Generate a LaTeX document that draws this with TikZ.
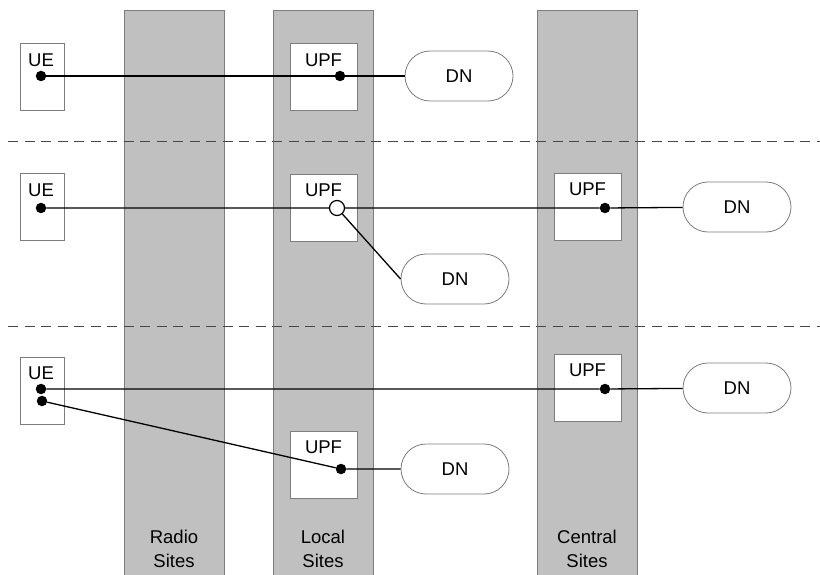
\documentclass[tikz,border=0pt]{standalone}
\usepackage{fontspec}
\setmainfont{Liberation Sans}
\usepackage{xcolor}
\usetikzlibrary{positioning,shapes.misc}
\definecolor{siteGray}{RGB}{192,192,192}
\definecolor{edgeGray}{RGB}{125,125,125}
\definecolor{dashGray}{RGB}{70,70,70}

\begin{document}
\begin{tikzpicture}[x=1pt,y=-1pt,
	every node/.style={font=\fontsize{18.5}{24}\selectfont},
	site/.style={fill=siteGray,draw=edgeGray,line width=0.8pt},
	uebox/.style={draw=edgeGray,fill=white,line width=0.8pt,minimum width=44pt,minimum height=67pt,inner sep=0pt},
	upfbox/.style={draw=edgeGray,fill=white,line width=0.8pt,minimum width=67pt,minimum height=67pt,inner sep=0pt},
	dn/.style={rounded rectangle,draw=edgeGray,fill=white,line width=0.8pt,minimum width=108pt,minimum height=50pt,inner sep=0pt},
	dot/.style={circle,fill=black,inner sep=0pt,minimum size=10.5pt},
	odot/.style={circle,draw=black,fill=white,line width=1.2pt,inner sep=0pt,minimum size=15pt},
	link/.style={line width=1.3pt},
	sep/.style={draw=dashGray,line width=1pt,dash pattern=on 10pt off 6.5pt}]
		\useasboundingbox (0,0) rectangle (820,575);
		% sites
		\draw[site] (124,10) rectangle (224,590);
		\draw[site] (273,10) rectangle (373,590);
		\draw[site] (537,10) rectangle (637,590);
		\node[align=center] (radio) at (174,549) {Radio\\Sites};
		\node[align=center] (local) at (323,549) {Local\\Sites};
		\node[align=center] (central) at (587,549) {Central\\Sites};
		% separators
		\draw[sep] (8,142) -- (820,142);
		\draw[sep] (8,326) -- (820,326);
		% first row
		\node[uebox] (ue1) at (42,76.5) {};
		\node at (41,60) {UE};
		\node[upfbox] (upf1) at (323.5,76.5) {};
		\node at (323.5,60) {UPF};
		\node[dn] (dn1) at (459,76) {DN};
		\node[dot] (ue1d) at (41,76) {};
		\node[dot] (upf1d) at (340,76) {};
		\draw[link] (ue1d) -- (upf1d) -- (dn1);
		% second row
		\node[uebox] (ue2) at (42,206.5) {};
		\node at (41,190) {UE};
		\node[upfbox] (upf2l) at (323.5,208) {};
		\node at (323.5,190) {UPF};
		\node[upfbox] (upf2c) at (587.5,207) {};
		\node at (587.5,189) {UPF};
		\node[dn] (dn2c) at (737,207) {DN};
		\node[dn] (dn2l) at (455,279) {DN};
		\node[dot] (ue2d) at (41,208) {};
		\node[dot] (upf2cd) at (605,208) {};
		\draw[link] (ue2d) -- (upf2cd) -- (dn2c);
		\node[odot] (upf2ld) at (337,208) {};
		\draw[link] (upf2ld) -- (dn2l.west);
		% third row
		\node[uebox] (ue3) at (42,391) {};
		\node at (41,373) {UE};
		\node[upfbox] (upf3c) at (587.5,387.5) {};
		\node at (587.5,370) {UPF};
		\node[upfbox] (upf3l) at (323.5,464.5) {};
		\node at (323.5,447) {UPF};
		\node[dn] (dn3c) at (737,388) {DN};
		\node[dn] (dn3l) at (455,469) {DN};
		\node[dot] (ue3a) at (41,389) {};
		\node[dot] (ue3b) at (42,401) {};
		\node[dot] (upf3cd) at (605,389) {};
		\node[dot] (upf3ld) at (341,469) {};
		\draw[link] (ue3a) -- (upf3cd) -- (dn3c);
		\draw[link] (ue3b) -- (upf3ld) -- (dn3l);
\end{tikzpicture}
\end{document}
